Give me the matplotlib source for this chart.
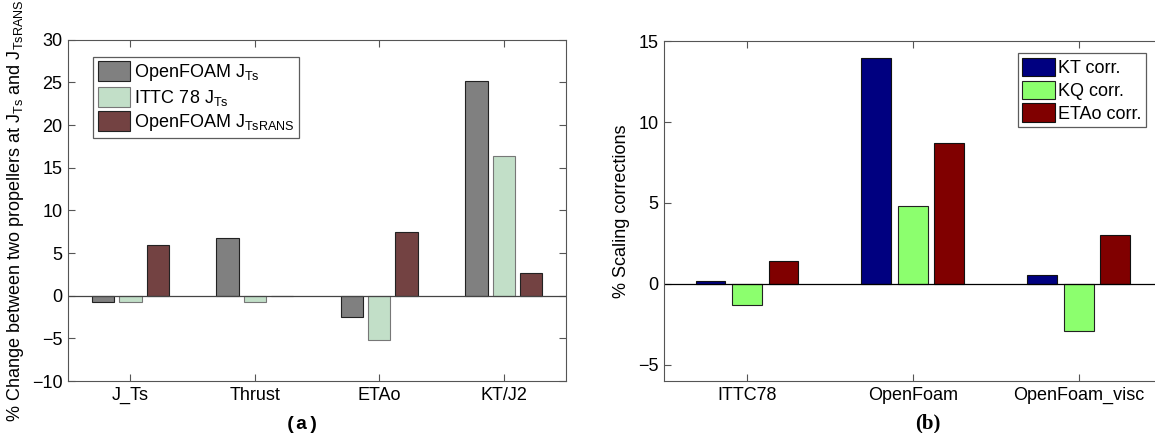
import numpy as np
import matplotlib.pyplot as plt

plt.rcParams['font.family'] = ['Liberation Sans', 'DejaVu Sans']
plt.rcParams['mathtext.default'] = 'regular'
plt.rcParams['font.size'] = 13

# left panel data
cats_a = ['J_Ts', 'Thrust', 'ETAo', 'KT/J2']
openfoam_jts = [-0.7, 6.8, -2.5, 25.2]
ittc78_jts = [-0.7, -0.7, -5.2, 16.4]
openfoam_rans = [6.0, 0.0, 7.5, 2.7]

# right panel data
cats_b = ['ITTC78', 'OpenFoam', 'OpenFoam_visc']
kt_corr = [0.2, 13.95, 0.55]
kq_corr = [-1.3, 4.8, -2.9]
etao_corr = [1.4, 8.7, 3.05]

fig = plt.figure(figsize=(11.55, 4.33), dpi=100)

# (a)
ax1 = fig.add_axes([0.059, 0.12, 0.431, 0.788])
x = np.arange(1, len(cats_a) + 1)
w = 0.18
ax1.bar(x - 0.22, openfoam_jts, w, color='#808080', edgecolor='#222222', linewidth=0.8,
        label='OpenFOAM J$_{Ts}$')
ax1.bar(x, ittc78_jts, w, color='#c2dfc8', edgecolor='#777777', linewidth=0.8,
        label='ITTC 78 J$_{Ts}$')
ax1.bar(x + 0.22, openfoam_rans, w, color='#734242', edgecolor='#222222', linewidth=0.8,
        label='OpenFOAM J$_{TsRANS}$')
ax1.axhline(0, color='#444444', linewidth=0.9)
ax1.set_xlim(0.5, 4.5)
ax1.set_ylim(-10, 30)
ax1.set_yticks(np.arange(-10, 31, 5))
ax1.set_xticks(x)
ax1.set_xticklabels(cats_a)
ax1.tick_params(direction='in', top=True, right=True, length=5, width=0.8, color='#555555', pad=4)
for s in ax1.spines.values():
    s.set_color('#555555')
ax1.set_ylabel('% Change between two propellers at J$_{Ts}$ and J$_{TsRANS}$', labelpad=4)
leg1 = ax1.legend(loc='upper left', bbox_to_anchor=(0.05, 0.95), fancybox=False,
                  edgecolor='#333333', handlelength=1.8, handleheight=1.3,
                  borderpad=0.25, labelspacing=0.2, handletextpad=0.2, borderaxespad=0,
                  fontsize=13)
leg1.get_frame().set_linewidth(0.9)
fig.text(0.262, 0.01, '(a)', family='Liberation Mono', weight='bold', fontsize=14, ha='center')

# (b)
ax2 = fig.add_axes([0.575, 0.12, 0.425, 0.785])
xb = np.arange(1, len(cats_b) + 1)
ax2.bar(xb - 0.22, kt_corr, w, color='#000080', edgecolor='#111111', linewidth=0.8, label='KT corr.')
ax2.bar(xb, kq_corr, w, color='#8cff6e', edgecolor='#222222', linewidth=0.8, label='KQ corr.')
ax2.bar(xb + 0.22, etao_corr, w, color='#800000', edgecolor='#111111', linewidth=0.8, label='ETAo corr.')
ax2.axhline(0, color='black', linewidth=0.9)
ax2.set_xlim(0.5, 3.46)
ax2.set_ylim(-6, 15)
ax2.set_yticks([-5, 0, 5, 10, 15])
ax2.set_xticks(xb)
ax2.set_xticklabels(cats_b)
ax2.tick_params(direction='in', top=True, right=False, length=5, width=0.8, color='#555555', pad=4)
ax2.spines['right'].set_visible(False)
for s in ax2.spines.values():
    s.set_color('#555555')
ax2.set_ylabel('% Scaling corrections', labelpad=6)
leg2 = ax2.legend(loc='upper right', bbox_to_anchor=(0.982, 0.965), fancybox=False,
                  edgecolor='#333333', handlelength=1.8, handleheight=1.2,
                  borderpad=0.25, labelspacing=0.2, handletextpad=0.2, borderaxespad=0,
                  fontsize=13)
leg2.get_frame().set_linewidth(0.9)
fig.text(0.803, 0.01, '(b)', family='Liberation Serif', weight='bold', fontsize=15, ha='center')

fig.savefig('out.png', dpi=100)
